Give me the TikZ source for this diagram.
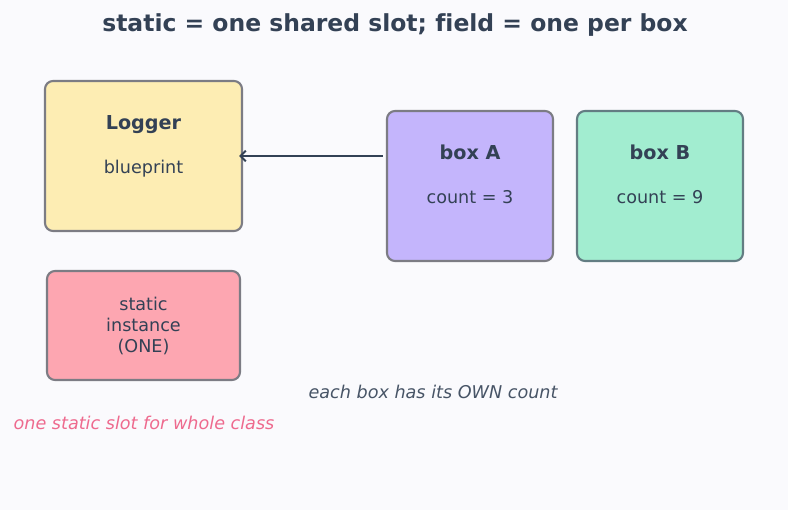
\documentclass[tikz,border=0pt]{standalone}
\usepackage{fontspec}
\setmainfont[Ligatures=NoCommon]{DejaVu Sans}
\usetikzlibrary{arrows.meta, positioning}
\definecolor{slate}{HTML}{334155}
\definecolor{edgegray}{HTML}{7C7C84}
\definecolor{bgwhite}{HTML}{FAFAFD}
\definecolor{logfill}{HTML}{FDEDB3}
\definecolor{afill}{HTML}{C4B5FC}
\definecolor{bfill}{HTML}{A2EDD0}
\definecolor{sfill}{HTML}{FDA6B1}
\definecolor{notepink}{HTML}{EE6A8E}

\tikzset{
  box/.style={draw=edgegray, line width=1.6pt, rounded corners=6pt, inner sep=0pt},
  head/.style={font=\fontsize{14.4}{17}\selectfont\bfseries, text=slate},
  body/.style={font=\fontsize{13.2}{15.5}\selectfont, text=slate, align=center},
  note/.style={font=\fontsize{13.2}{15.5}\selectfont\itshape},
}

\begin{document}
\begin{tikzpicture}[x=0.75pt, y=-0.75pt]
\fill[bgwhite] (0,0) rectangle (788,510);
\useasboundingbox (0,0) rectangle (788,510);

\node[font=\fontsize{17.6}{21}\selectfont\bfseries, text=slate] (title) at (395,25) {static = one shared slot; field = one per box};

% class side
\node[box, fill=logfill, minimum width=147.75pt, minimum height=112.5pt] (logger) at (143.5,156) {};
\node[head] (loggerhead) at (143.5,124.5) {Logger};
\node[body] (loggerbody) at (143.5,169) {blueprint};

\node[box, fill=sfill, minimum width=144.75pt, minimum height=81.75pt] (slot) at (143.5,325.5) {};
\node[body, font=\fontsize{13.2}{15.6}\selectfont] (slottext) at (143.5,326) {static\\instance\\(ONE)};

% objects
\node[box, fill=afill, minimum width=124.5pt, minimum height=112.5pt] (boxA) at (470,186) {};
\node[head] (boxAhead) at (470,152) {box A};
\node[body] (boxAbody) at (470,197) {count = 3};

\node[box, fill=bfill, draw=edgegray!80!teal, minimum width=124.5pt, minimum height=112.5pt] (boxB) at (660,186) {};
\node[head] (boxBhead) at (660,152) {box B};
\node[body] (boxBbody) at (660,197) {count = 9};

\draw[-{Straight Barb[length=4pt,width=8pt]}, line width=1.5pt, draw=slate, shorten <=2.5pt, shorten >=-3pt]
  (boxA.west |- logger.east) -- (logger.east);

\node[note, text=slate!90] (ownnote) at (433,392) {each box has its OWN count};
\node[note, text=notepink] (slotnote) at (144,423) {one static slot for whole class};
\end{tikzpicture}
\end{document}
